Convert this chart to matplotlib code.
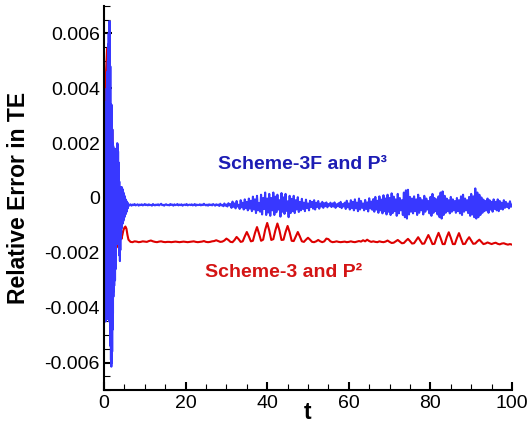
import numpy as np
import matplotlib
matplotlib.use("Agg")
import matplotlib.pyplot as plt
from matplotlib.ticker import MultipleLocator

plt.rcParams['font.family'] = ['Liberation Sans', 'DejaVu Sans']

# ---- data (values in units of 1e-5) ----
UNIT = 1e-5

# Scheme-3F and P^3 (blue), early part sampled every 0.05 from t=0
blue_early_dt = 0.05
blue_early = [
    0, 350, -440, 330, -450, 340, -430, 320, -450, 350, -440, 330, -420, 400, -440, 430, -430, 460, -440, 500,
    -420, 560, -440, 600, -430, 630, -450, 645, -440, 620, -470, 480, -540, 340, -590, 300, -615, 340, -600, 280,
    -560, 250, -480, 200, -420, 190, -360, 180, -340, 160, -320, 170, -300, 180, -300, 150, -260, 120, -220, 100,
    -170, 140, -160, 180, -150, 200, -160, 195, -140, 170, -150, 130, -170, 90, -190, 60, -210, 40, -230, 30,
    -190, 40, -150, 35, -130, 30, -110, 40, -100, 35, -95, 30, -90, 25, -85, 20, -80, 15, -70, 10,
    -70, 5, -65, 0, -60, -5, -58, -8, -55, -10, -50, -14, -45, -16, -40, -18, -36, -20, -32, -22,
]
# later part sampled every 0.25 from t=6
blue_late_t0 = 6.0
blue_late_dt = 0.25
blue_late = [
    -24, -27, -23, -28, -24, -26, -22, -27, -25, -23, -28, -24, -26, -23, -27, -25, -22, -26, -24, -27,
    -23, -26, -25, -28, -22, -25, -27, -24, -26, -23, -27, -24, -21, -26, -25, -28, -24, -23, -26, -25,
    -27, -22, -25, -24, -28, -23, -26, -25, -22, -27, -24, -26, -23, -28, -25, -24, -26, -22, -27, -25,
    -24, -26, -23, -27, -25, -22, -28, -24, -26, -25, -23, -27, -24, -26, -21, -25, -27, -24, -28, -23,
    -26, -24, -27, -22, -25, -28, -23, -26, -24, -29, -21, -27, -25, -30, -20, -28, -24, -31, -19, -27,
    -22, -36, -13, -32, -20, -38, -11, -31, -25, -40, -8, -34, -17, -42, -5, -37, -14, -45, -2, -39,
    -10, -48, 5, -42, -5, -55, 8, -45, -18, -50, 12, -60, 0, -40, 20, -62, -2, -53, 15, -65,
    0, -45, 20, -62, 5, -52, 12, -42, -8, -68, 18, -50, 2, -58, 15, -47, -12, -70, 8, -55,
    -3, -48, 8, -55, -8, -42, 3, -51, -14, -45, -3, -40, -17, -48, -6, -37, -20, -45, -10, -33,
    -14, -39, -8, -42, -17, -33, -11, -39, -20, -31, -14, -36, -19, -30, -16, -34, -22, -28, -17, -33,
    -20, -31, -16, -36, -23, -30, -19, -33, -14, -37, -22, -31, -17, -40, -10, -34, -20, -42, -8, -37,
    -14, -45, -5, -38, -17, -48, -2, -42, -11, -36, -20, -45, -7, -40, -16, -49, -1, -38, -13, -43,
    -4, -50, 4, -42, -10, -54, 6, -45, -6, -56, 10, -48, -2, -60, 12, -50, 0, -62, 17, -55,
    5, -48, -5, -65, 15, -56, 0, -45, -8, -62, 20, -70, 28, -75, 30, -60, 4, -50, -2, -56,
    6, -48, -5, -62, 12, -54, 0, -45, -8, -60, 8, -50, -2, -42, -11, -56, 4, -65, 15, -54,
    0, -48, -5, -60, 6, -70, 20, -75, 24, -62, 8, -54, -2, -48, -8, -56, 4, -50, -5, -45,
    -11, -54, 0, -48, -8, -56, 6, -62, 12, -50, -2, -45, -8, -55, 4, -65, 15, -60, 6, -70,
    35, -75, 20, -70, 12, -62, 2, -54, -6, -48, -11, -45, -2, -54, -8, -42, -14, -50, -5, -40,
    -14, -45, -5, -48, -11, -40, -17, -42, -8, -36, -14, -33, -20, -38, -12, -32, -25,
]

# Scheme-3 and P^2 (red), early part sampled every 0.25 from t=0
red_early_dt = 0.25
red_early = [
    0, 300, 460, 545, 500, 200, -300, -200, 250, 100, -250, -150,
    120, 50, -180, -160, -60, -150, -135, -118, -108, -104, -112, -135,
]
# later part sampled every 0.5 from t=6
red_late_t0 = 6.0
red_late_dt = 0.5
red_late = [
    -152, -160, -161, -158, -159, -161, -160, -158, -159, -160,
    -157, -155, -158, -160, -161, -159, -158, -160, -161, -160,
    -160, -161, -160, -159, -160, -161, -160, -159, -160, -161,
    -160, -159, -158, -160, -161, -160, -159, -157, -160, -161,
    -160, -158, -157, -154, -157, -160, -159, -155, -148, -153,
    -160, -161, -153, -142, -150, -160, -158, -140, -124, -140,
    -158, -156, -128, -106, -130, -156, -152, -116, -91, -118,
    -153, -150, -118, -93, -118, -153, -152, -124, -102, -125,
    -156, -157, -140, -124, -140, -158, -160, -152, -145, -152,
    -160, -161, -158, -153, -158, -161, -158, -148, -150, -158,
    -161, -160, -158, -160, -161, -160, -159, -161, -160, -158,
    -160, -161, -159, -157, -159, -154, -158, -152, -157, -160,
    -158, -160, -161, -158, -160, -161, -159, -155, -160, -164,
    -163, -158, -153, -159, -165, -164, -156, -149, -157, -166,
    -165, -154, -143, -155, -167, -166, -150, -135, -150, -168,
    -167, -145, -127, -146, -168, -168, -143, -125, -145, -168,
    -168, -146, -128, -148, -168, -167, -153, -143, -155, -167,
    -166, -158, -152, -160, -168, -166, -162, -165, -168, -165,
    -163, -167, -169, -166, -165, -168, -170, -168, -170,
]

xticks = [0, 20, 40, 60, 80, 100]
xtick_labels = ['0', '20', '40', '60', '80', '100']
yticks = [-0.006, -0.004, -0.002, 0.0, 0.002, 0.004, 0.006]
ytick_labels = ['-0.006', '-0.004', '-0.002', '0', '0.002', '0.004', '0.006']

label_blue = 'Scheme-3F and P\u00b3'
label_red = 'Scheme-3 and P\u00b2'

# ---- assemble series ----
t_blue = np.concatenate([blue_early_dt * np.arange(len(blue_early)),
                         blue_late_t0 + blue_late_dt * np.arange(len(blue_late))])
y_blue = np.array(blue_early + blue_late, dtype=float) * UNIT
t_red = np.concatenate([red_early_dt * np.arange(len(red_early)),
                        red_late_t0 + red_late_dt * np.arange(len(red_late))])
y_red = np.array(red_early + red_late, dtype=float) * UNIT

# ---- figure ----
fig = plt.figure(figsize=(5.28, 4.32), dpi=100)
ax = fig.add_axes([104 / 528, 1 - 390 / 432, 408 / 528, 384 / 432])

ax.plot(t_red, y_red, color='#dd0000', lw=1.5)
ax.plot(t_blue, y_blue, color='#3838ff', lw=1.5)

ax.set_xlim(0, 100)
ax.set_ylim(-0.007, 0.007)

ax.spines['top'].set_visible(False)
ax.spines['right'].set_visible(False)
for s in ('left', 'bottom'):
    ax.spines[s].set_linewidth(1.5)

ax.set_xticks(xticks, labels=xtick_labels)
ax.set_yticks(yticks, labels=ytick_labels)
ax.xaxis.set_minor_locator(MultipleLocator(5))
ax.yaxis.set_minor_locator(MultipleLocator(0.0005))
ax.tick_params(which='both', direction='in', top=False, right=False, labelsize=14)
ax.tick_params(which='major', length=6, width=1.5)
ax.tick_params(which='minor', length=4, width=0.8)
ax.tick_params(axis='x', which='major', pad=3.6)
ax.tick_params(axis='y', which='major', pad=2.9)

ax.set_ylabel('Relative Error in TE', fontsize=16.5, fontweight='bold')
ax.yaxis.set_label_coords(-0.181, 0.5)
ax.set_xlabel('t', fontsize=16.5, fontweight='bold')
ax.xaxis.set_label_coords(0.5, -0.0755)
ax.xaxis.label.set_va('baseline')

ax.text(28.0, 0.00105, label_blue, color='#1c1cb4', fontsize=14,
        fontweight='bold', ha='left', va='baseline')
ax.text(24.8, -0.00288, label_red, color='#d41414', fontsize=14,
        fontweight='bold', ha='left', va='baseline')

fig.savefig('out.png', dpi=100)
